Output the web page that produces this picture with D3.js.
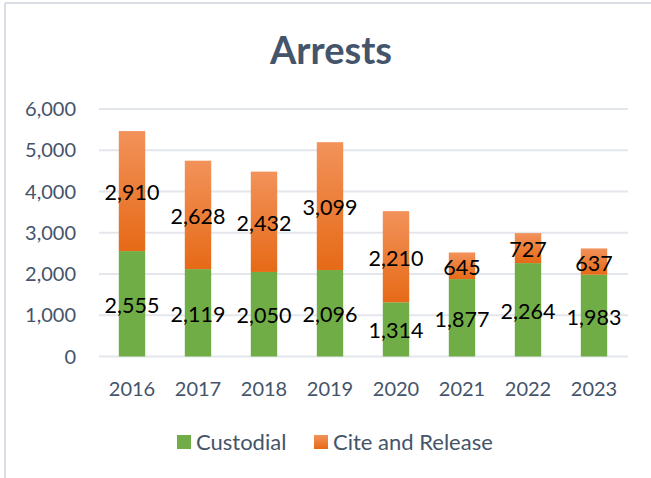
<!DOCTYPE html>
<html><head><meta charset="utf-8">
<script src="https://cdn.jsdelivr.net/npm/d3@7"></script>
<style>body{margin:0;background:#fff}svg{display:block}</style>
</head><body>
<svg id="c" width="651" height="478"></svg>
<script>
const years = ["2016","2017","2018","2019","2020","2021","2022","2023"];
const custodial = [2555,2119,2050,2096,1314,1877,2264,1983];
const citeRelease = [2910,2628,2432,3099,2210,645,727,637];
const yTicks = [0,1000,2000,3000,4000,5000,6000];
const seriesNames = ["Custodial","Cite and Release"];

const svg = d3.select("#c");
const font = "Lato, 'Open Sans', sans-serif";
const axisCol = "#44546A";

// frame
svg.append("line").attr("x1",5).attr("x2",5).attr("y1",3).attr("y2",478).attr("stroke","#D9DEE6").attr("stroke-width",2);
svg.append("line").attr("x1",5).attr("x2",651).attr("y1",3).attr("y2",3).attr("stroke","#D9DEE6").attr("stroke-width",2);

const defs = svg.append("defs");
const g1 = defs.append("linearGradient").attr("id","og").attr("x1",0).attr("x2",0).attr("y1",0).attr("y2",1);
g1.append("stop").attr("offset","0%").attr("stop-color","#F2925A");
g1.append("stop").attr("offset","100%").attr("stop-color","#E66A17");

const x = d3.scaleBand().domain(years).range([99,627]).paddingInner(0.6).paddingOuter(0.3);
const y = d3.scaleLinear().domain([0,6000]).range([356.5,109]);

// grid
svg.append("g").selectAll("line").data(yTicks).join("line")
  .attr("x1",99).attr("x2",628).attr("y1",d=>y(d)).attr("y2",d=>y(d))
  .attr("stroke","#E3E6EB").attr("stroke-width",2);

// y labels
svg.append("g").selectAll("text").data(yTicks).join("text")
  .attr("x",76).attr("y",d=>y(d)).attr("dy","0.36em").attr("text-anchor","end")
  .attr("font-family",font).attr("font-size",20).attr("fill",axisCol)
  .text(d=>d3.format(",")(d));

// bars
const fmt = d3.format(",");
const bw = x.bandwidth();
svg.append("g").selectAll("rect").data(years).join("rect")
  .attr("x",d=>x(d)).attr("width",bw)
  .attr("y",(d,i)=>y(custodial[i])).attr("height",(d,i)=>y(0)-y(custodial[i]))
  .attr("fill","#70AD47");
svg.append("g").selectAll("rect").data(years).join("rect")
  .attr("x",d=>x(d)).attr("width",bw)
  .attr("y",(d,i)=>y(custodial[i]+citeRelease[i])).attr("height",(d,i)=>y(custodial[i])-y(custodial[i]+citeRelease[i]))
  .attr("fill","url(#og)");

// data labels
svg.append("g").selectAll("text").data(years).join("text")
  .attr("x",d=>x(d)+bw/2).attr("y",(d,i)=>(y(0)+y(custodial[i]))/2).attr("dy","0.42em")
  .attr("text-anchor","middle").attr("font-family",font).attr("font-size",21.5).attr("fill","#000")
  .text((d,i)=>fmt(custodial[i]));
svg.append("g").selectAll("text").data(years).join("text")
  .attr("x",d=>x(d)+bw/2).attr("y",(d,i)=>(y(custodial[i])+y(custodial[i]+citeRelease[i]))/2).attr("dy","0.42em")
  .attr("text-anchor","middle").attr("font-family",font).attr("font-size",21.5).attr("fill","#000")
  .text((d,i)=>fmt(citeRelease[i]));

// x labels
svg.append("g").selectAll("text").data(years).join("text")
  .attr("x",d=>x(d)+bw/2).attr("y",396).attr("text-anchor","middle")
  .attr("font-family",font).attr("font-size",20).attr("fill",axisCol).text(d=>d);

// title
svg.append("text").attr("x",331).attr("y",64).attr("text-anchor","middle")
  .attr("font-family",font).attr("font-weight","bold").attr("font-size",38).attr("fill",axisCol).text("Arrests");

// legend
const lg = [{n:seriesNames[0],x:177,f:"#70AD47"},{n:seriesNames[1],x:314,f:"url(#og)"}];
const l = svg.append("g").selectAll("g").data(lg).join("g");
l.append("rect").attr("x",d=>d.x).attr("y",435).attr("width",14).attr("height",14).attr("fill",d=>d.f);
l.append("text").attr("x",d=>d.x+19).attr("y",449.5).attr("font-family",font).attr("font-size",22).attr("fill",axisCol).text(d=>d.n);
</script>
</body></html>
